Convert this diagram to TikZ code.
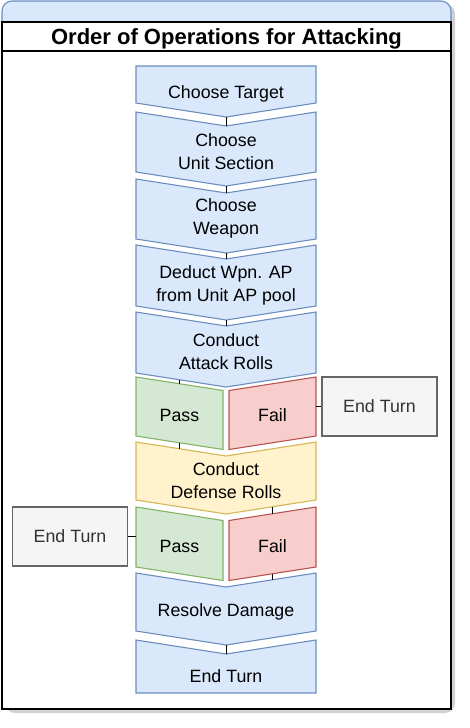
\documentclass[tikz,border=0pt]{standalone}
\usepackage{fontspec}
\setmainfont{Liberation Sans}
\usetikzlibrary{calc}

\definecolor{bluefill}{HTML}{DAE8FC}
\definecolor{bluedraw}{HTML}{6C8EBF}
\definecolor{greenfill}{HTML}{D5E8D4}
\definecolor{greendraw}{HTML}{82B366}
\definecolor{redfill}{HTML}{F8CECC}
\definecolor{reddraw}{HTML}{B85450}
\definecolor{yellowfill}{HTML}{FFF2CC}
\definecolor{yellowdraw}{HTML}{D6B656}
\definecolor{greyfill}{HTML}{F5F5F5}
\definecolor{greydraw}{HTML}{666666}
\definecolor{greytext}{HTML}{333333}

\begin{document}
\begin{tikzpicture}[x=1pt, y=-1pt,
    lbl/.style={font=\fontsize{17.8}{23}\selectfont, align=center, text=black, yshift=-2.5pt},
    stepblue/.style={fill=bluefill, draw=bluedraw, line width=1.1pt},
    steppass/.style={fill=greenfill, draw=greendraw, line width=1.1pt},
    stepfail/.style={fill=redfill, draw=reddraw, line width=1.1pt},
    stepdef/.style={fill=yellowfill, draw=yellowdraw, line width=1.1pt},
    endbox/.style={rectangle, fill=greyfill, draw=greydraw, line width=1.1pt,
      minimum width=115, minimum height=59, text=greytext,
      font=\fontsize{17.8}{23}\selectfont},
    link/.style={draw=black, line width=0.9pt}]
  \useasboundingbox (0,0) rectangle (470,728);
  % --- Frame with shadow ---
  \fill[black, opacity=0.18, rounded corners=10] (5,4) rectangle (455,713);
  \filldraw[fill=bluefill, draw=bluedraw, line width=1.1pt, rounded corners=10]
    (2,1) rectangle (451,40);
  \filldraw[fill=white, draw=black, line width=1.3pt] (2,22) rectangle (451,709);
  \draw[black, line width=1.3pt] (2,51) -- (451,51);
  \node[font=\fontsize{22}{26}\selectfont\bfseries] (title) at (226.5,38.5)
    {Order of Operations for Attacking};
  % --- Steps, top to bottom ---
  \filldraw[stepblue] (136,66) -- (316,66) -- (316,103) -- (226,117) -- (136,103) -- cycle;
  \node[lbl] (target) at (226,91.5) {Choose Target};
  \filldraw[stepblue] (136,112) -- (226,126) -- (316,112) -- (316,172) -- (226,186) -- (136,172) -- cycle;
  \node[lbl] (section) at (226,149) {Choose\\Unit Section};
  \filldraw[stepblue] (136,179) -- (226,193) -- (316,179) -- (316,239) -- (226,253) -- (136,239) -- cycle;
  \node[lbl] (weapon) at (226,216) {Choose\\Weapon};
  \filldraw[stepblue] (136,245) -- (226,259) -- (316,245) -- (316,306) -- (226,320) -- (136,306) -- cycle;
  \node[lbl] (deduct) at (226,282.5) {Deduct Wpn. AP\\from Unit AP pool};
  \filldraw[stepblue] (136,312) -- (226,326) -- (316,312) -- (316,373) -- (226,387) -- (136,373) -- cycle;
  \node[lbl] (attack) at (226,349.5) {Conduct\\Attack Rolls};
  % --- Attack result ---
  \filldraw[steppass] (136,377) -- (223,390.5) -- (223,449.5) -- (136,436) -- cycle;
  \node[lbl] (pass1) at (179.5,413) {Pass};
  \filldraw[stepfail] (229,390.5) -- (316,377) -- (316,436) -- (229,449.5) -- cycle;
  \node[lbl] (fail1) at (272.5,413) {Fail};
  \node[endbox] (end1) at (379.5,406.5) {End Turn};
  % --- Defense ---
  \filldraw[stepdef] (136,442) -- (226,456) -- (316,442) -- (316,500) -- (226,514) -- (136,500) -- cycle;
  \node[lbl] (defense) at (226,478) {Conduct\\Defense Rolls};
  \filldraw[steppass] (136,507) -- (223,520.5) -- (223,580.5) -- (136,567) -- cycle;
  \node[lbl] (pass2) at (179.5,544) {Pass};
  \filldraw[stepfail] (229,520.5) -- (316,507) -- (316,567) -- (229,580.5) -- cycle;
  \node[lbl] (fail2) at (272.5,544) {Fail};
  \node[endbox] (end2) at (70,536.5) {End Turn};
  % --- Last steps ---
  \filldraw[stepblue] (136,573) -- (226,587) -- (316,573) -- (316,631) -- (226,645) -- (136,631) -- cycle;
  \node[lbl] (damage) at (226,609) {Resolve Damage};
  \filldraw[stepblue] (136,640) -- (226,654) -- (316,640) -- (316,693) -- (136,693) -- cycle;
  \node[lbl] (endturn) at (226,673.5) {End Turn};
  % --- Connection points ---
  \coordinate (target-out) at (226,117);
  \coordinate (section-in) at (226,126);
  \coordinate (section-out) at (226,186);
  \coordinate (weapon-in) at (226,193);
  \coordinate (weapon-out) at (226,253);
  \coordinate (deduct-in) at (226,259);
  \coordinate (deduct-out) at (226,320);
  \coordinate (attack-in) at (226,326);
  \coordinate (attack-out) at (179.5,379.8);
  \coordinate (pass1-in) at (179.5,383.8);
  \coordinate (pass1-out) at (179.5,442.8);
  \coordinate (fail1-out) at (316,406.5);
  \coordinate (defense-in) at (179.5,448.8);
  \coordinate (defense-out) at (272.5,506.8);
  \coordinate (fail2-in) at (272.5,513.8);
  \coordinate (fail2-out) at (272.5,573.8);
  \coordinate (pass2-out) at (136,536.5);
  \coordinate (damage-in) at (272.5,579.8);
  \coordinate (damage-out) at (226,645);
  \coordinate (endturn-in) at (226,654);
  % --- Connectors ---
  \draw[link] (target-out) -- (section-in);
  \draw[link] (section-out) -- (weapon-in);
  \draw[link] (weapon-out) -- (deduct-in);
  \draw[link] (deduct-out) -- (attack-in);
  \draw[link] (attack-out) -- (pass1-in);
  \draw[link] (fail1-out) -- (end1.west);
  \draw[link] (pass1-out) -- (defense-in);
  \draw[link] (defense-out) -- (fail2-in);
  \draw[link] (pass2-out) -- (end2.east);
  \draw[link] (fail2-out) -- (damage-in);
  \draw[link] (damage-out) -- (endturn-in);
\end{tikzpicture}
\end{document}
